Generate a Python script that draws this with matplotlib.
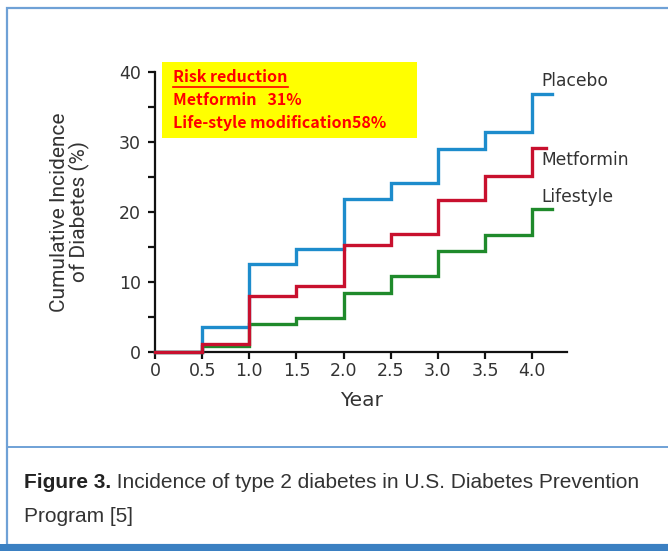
import matplotlib
matplotlib.use("Agg")
import matplotlib.pyplot as plt
from matplotlib.patches import Rectangle
from matplotlib.lines import Line2D

# ---- data ----
years = [0, 0.5, 1.0, 1.5, 2.0, 2.5, 3.0, 3.5, 4.0]
placebo = [0, 3.6, 12.6, 14.7, 21.8, 24.1, 29.0, 31.5, 36.9]
metformin = [0, 1.1, 8.0, 9.4, 15.3, 16.9, 21.7, 25.1, 29.2]
lifestyle = [0, 0.9, 4.0, 4.8, 8.5, 10.8, 14.4, 16.7, 20.4]
end_placebo = 4.21
end_metformin = 4.15
end_lifestyle = 4.21
series_names = ["Placebo", "Metformin", "Lifestyle"]
xtick_vals = [0, 0.5, 1.0, 1.5, 2.0, 2.5, 3.0, 3.5, 4.0]
xtick_labels = ["0", "0.5", "1.0", "1.5", "2.0", "2.5", "3.0", "3.5", "4.0"]
ytick_vals = [0, 5, 10, 15, 20, 25, 30, 35, 40]
ytick_labels = ["0", "", "10", "", "20", "", "30", "", "40"]
box_lines = ["Risk reduction", "Metformin   31%", "Life-style modification58%"]
caption_bold = "Figure 3."
caption_rest = " Incidence of type 2 diabetes in U.S. Diabetes Prevention"
caption_line2 = "Program [5]"

W, H = 668, 551
fig = plt.figure(figsize=(W / 100, H / 100), dpi=100)

def fx(px):
    return px / W

def fy(py):
    return 1 - py / H

# frame
fig.patches.append(Rectangle((fx(7), fy(545)), fx(668 - 7 + 5), fy(8) - fy(545),
                             transform=fig.transFigure, fill=False,
                             edgecolor="#6fa1d6", lw=1.6))
fig.add_artist(Line2D([fx(7), 1], [fy(447), fy(447)], transform=fig.transFigure,
                      color="#6fa1d6", lw=1.4))
fig.patches.append(Rectangle((0, 0), 1, fy(544), transform=fig.transFigure,
                             facecolor="#3b80c2", edgecolor="none"))

ax = fig.add_axes([fx(155), fy(352), fx(567) - fx(155), fy(72) - fy(352)])
ax.set_xlim(0, 4.37)
ax.set_ylim(0, 40)

c_p, c_m, c_l = "#1d8ccc", "#c8102e", "#1f8a2b"
for vals, end, col in [(lifestyle, end_lifestyle, c_l), (placebo, end_placebo, c_p),
                       (metformin, end_metformin, c_m)]:
    xs = years + [end]
    ys = vals + [vals[-1]]
    ax.step(xs, ys, where="post", color=col, lw=2.4, clip_on=False,
            solid_joinstyle="miter", zorder=3)

for sp in ["top", "right"]:
    ax.spines[sp].set_visible(False)
for sp in ["left", "bottom"]:
    ax.spines[sp].set_linewidth(1.6)
    ax.spines[sp].set_color("#111111")
ax.spines["left"].set_bounds(0, 40)

ax.set_xticks(xtick_vals)
ax.set_xticklabels(xtick_labels)
ax.set_yticks(ytick_vals)
ax.set_yticklabels(ytick_labels)
ax.tick_params(axis="both", direction="out", length=5, width=1.6, color="#111111",
               labelsize=12.5, labelcolor="#333333")
ax.tick_params(axis="x", pad=2)
ax.tick_params(axis="y", pad=5)

ax.set_xlabel("Year", fontsize=14.5, color="#333333", labelpad=8)

fig.text(fx(70), fy(212), "Cumulative Incidence\nof Diabetes (%)", rotation=90,
         ha="center", va="center", fontsize=15, color="#333333",
         family="Roboto", linespacing=1.0)

# series labels
lab_fs = 12.3
fig.text(fx(541), fy(81), "Placebo", fontsize=lab_fs, color="#333333", va="center")
fig.text(fx(541), fy(160), "Metformin", fontsize=lab_fs, color="#333333", va="center")
fig.text(fx(541), fy(197), "Lifestyle", fontsize=lab_fs, color="#333333", va="center")

# yellow box
fig.patches.append(Rectangle((fx(162), fy(138)), fx(417) - fx(162), fy(62) - fy(138),
                             transform=fig.transFigure, facecolor="#ffff00",
                             edgecolor="none", zorder=5))
bfam = ["Noto Sans CJK KR", "DejaVu Sans"]
ys_box = [77, 100, 123]
for t, y in zip(box_lines, ys_box):
    fig.text(fx(173), fy(y), t, fontsize=11.5, fontweight="bold", color="#ff0000",
             family=bfam, va="center", zorder=6)
fig.add_artist(Line2D([fx(173), fx(288)], [fy(87), fy(87)], transform=fig.transFigure,
                      color="#ff0000", lw=1.2, zorder=6))

# caption
cfam = ["Liberation Sans"]
cfs = 15
t1 = fig.text(fx(24), fy(482), caption_bold, fontsize=cfs, fontweight="bold",
              color="#222222", family=cfam, va="center")
fig.canvas.draw()
bb = t1.get_window_extent()
fig.text(bb.x1 / W, fy(482), caption_rest, fontsize=cfs, color="#333333",
         family=cfam, va="center")
fig.text(fx(24), fy(516), caption_line2, fontsize=cfs, color="#333333",
         family=cfam, va="center")

fig.savefig("out.png", dpi=100)
